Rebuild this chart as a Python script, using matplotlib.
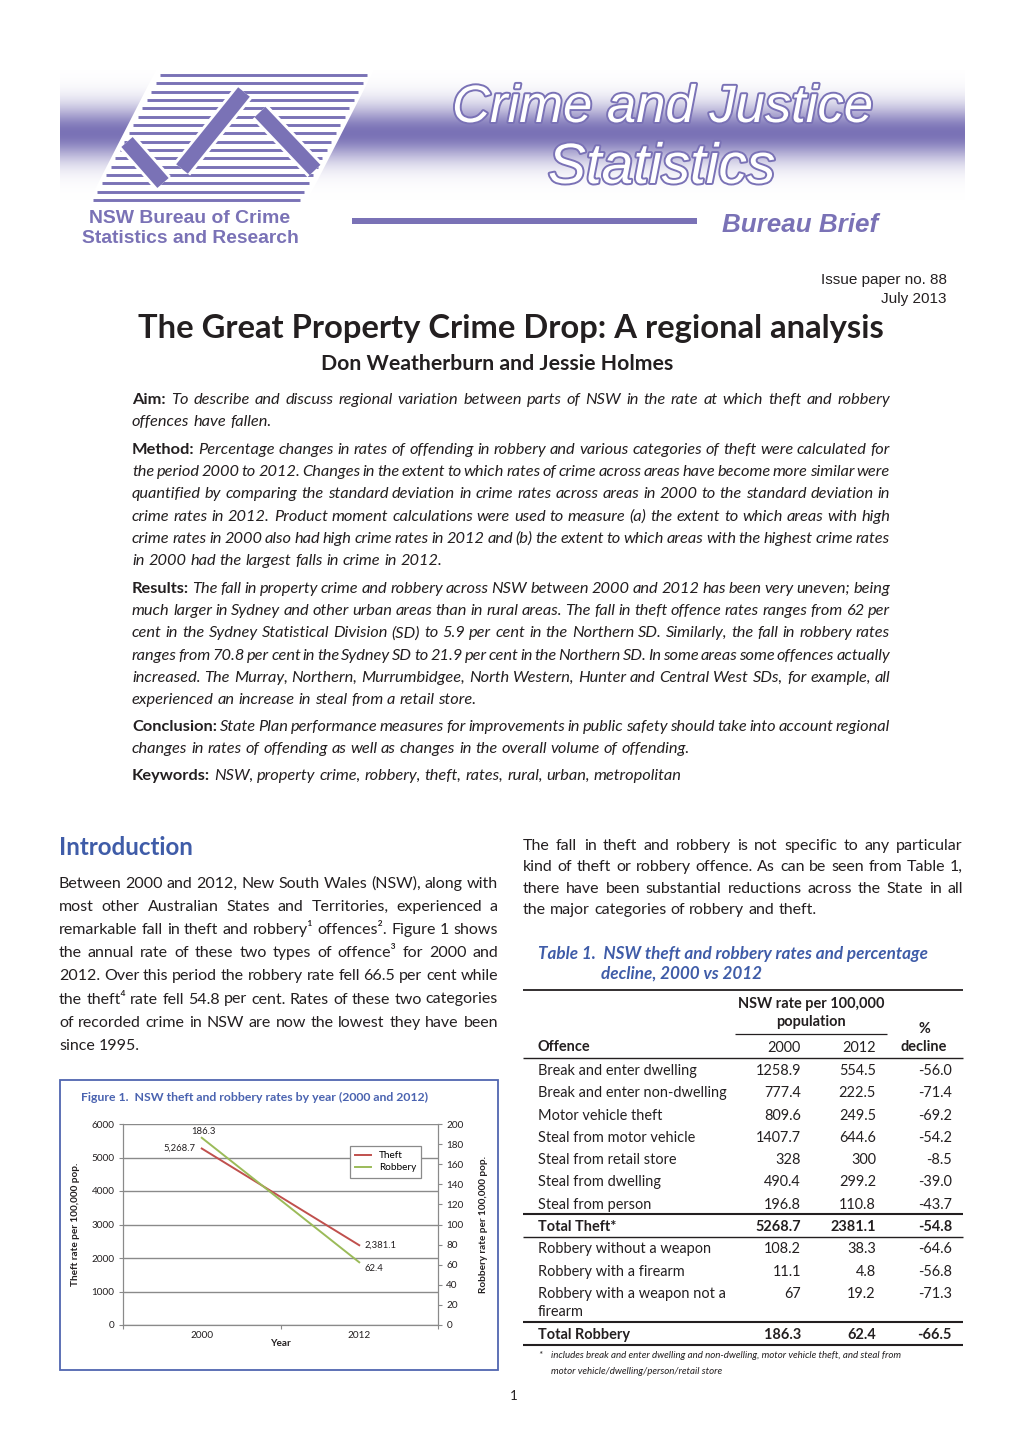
import matplotlib
matplotlib.use('Agg')
import matplotlib.pyplot as plt
import numpy as np
from matplotlib.font_manager import FontProperties
from matplotlib.patches import Rectangle, Polygon
import matplotlib.patheffects as pe

# ---- chart data (Figure 1)
years = ['2000', '2012']
theft = [5268.7, 2381.1]
robbery = [186.3, 62.4]

# ---- table data (Table 1)
theft_offences = ['Break and enter dwelling', 'Break and enter non-dwelling', 'Motor vehicle theft',
                  'Steal from motor vehicle', 'Steal from retail store', 'Steal from dwelling',
                  'Steal from person']
theft_2000 = ['1258.9', '777.4', '809.6', '1407.7', '328', '490.4', '196.8']
theft_2012 = ['554.5', '222.5', '249.5', '644.6', '300', '299.2', '110.8']
theft_decl = ['-56.0', '-71.4', '-69.2', '-54.2', '-8.5', '-39.0', '-43.7']
total_theft = ['Total Theft*', '5268.7', '2381.1', '-54.8']
robbery_offences = ['Robbery without a weapon', 'Robbery with a firearm',
                    'Robbery with a weapon not a\nfirearm']
robbery_2000 = ['108.2', '11.1', '67']
robbery_2012 = ['38.3', '4.8', '19.2']
robbery_decl = ['-64.6', '-56.8', '-71.3']
total_robbery = ['Total Robbery', '186.3', '62.4', '-66.5']

W, H = 1020, 1442
TXT = '#231f20'
PURPLE = '#7a72b6'
BLUE = '#3f5ca8'
RED = '#c0504d'
GREEN = '#9bbb59'
BODY = ['Lato', 'DejaVu Sans']

fig = plt.figure(figsize=(W / 100, H / 100), dpi=100)
page = fig.add_axes([0, 0, 1, 1])
page.set_xlim(0, W)
page.set_ylim(H, 0)
page.axis('off')
renderer = fig.canvas.get_renderer()


def fp(family=BODY, size=10, weight='normal', style='normal'):
    return FontProperties(family=family, size=size, weight=weight, style=style)


def text_w(s, prop):
    w, h, d = renderer.get_text_width_height_descent(s, prop, ismath=False)
    return w


def fit_size(s, target, family=BODY, weight='normal', style='normal'):
    return 20 * target / text_w(s, fp(family, 20, weight, style))


def put(x, y, s, prop, color=TXT, ha='left', **kw):
    return page.text(x, y, s, fontproperties=prop, color=color, ha=ha, va='baseline', **kw)


def line_size(runs, width, base, min_gap=0.45):
    # shrink a justified line only when it cannot fit at the base size
    words = [(w, st) for s, st in runs for w in s.split()]
    props = [fp(BODY, base, st[0], st[1]) for w, st in words]
    sp = text_w('a a', props[-1]) - text_w('aa', props[-1])
    nat = sum(text_w(w, p) for (w, st), p in zip(words, props)) + min_gap * sp * (len(words) - 1)
    return min(base, base * width / nat)


def put_line(runs, x0, x1, y, size, justify, color=TXT):
    words = [(w, st) for s, st in runs for w in s.split()]
    props = [fp(BODY, size, st[0], st[1]) for w, st in words]
    ws = [text_w(w, p) for (w, st), p in zip(words, props)]
    if justify and len(words) > 1:
        gap = (x1 - x0 - sum(ws)) / (len(words) - 1)
    else:
        gap = text_w('a a', props[-1]) - text_w('aa', props[-1])
    x = x0
    for (w, st), p, wd in zip(words, props, ws):
        put(x, y, w, p, color=color)
        x += wd + gap


def paragraph(lines, x0, x1, y0, step, base, first_label=None):
    for k, ln in enumerate(lines):
        runs = [(first_label, ('bold', 'normal')), (ln, ('normal', 'italic'))] if (first_label and k == 0) \
            else [(ln, ('normal', 'italic') if first_label else ('normal', 'normal'))]
        just = k < len(lines) - 1
        size = line_size(runs, x1 - x0, base) if just else base
        put_line(runs, x0, x1, y0 + step * k, size, just)


# ---------------- header band
ys = np.linspace(70, 200, 160)
t = np.exp(-((ys - 133) / 27.0) ** 2)
pc = np.array(matplotlib.colors.to_rgb(PURPLE))
grad = (1 - t)[:, None] * np.ones(3) + t[:, None] * pc
grad = np.repeat(grad[:, None, :], 2, axis=1)
page.imshow(grad, extent=(60, 965, 200, 70), aspect='auto', interpolation='bilinear', zorder=1)
page.set_xlim(0, W)
page.set_ylim(H, 0)

# logo: slanted striped parallelogram with zig-zag strokes
page.add_patch(Polygon([(156, 70), (374, 70), (305, 205), (87, 205)], closed=True,
                       fc='white', ec='none', zorder=2))
for k in range(16):
    yy = 75 + k * 8.33
    xl = 160 - (yy - 75) * 67 / 125
    page.plot([xl, xl + 207], [yy, yy], color=PURPLE, lw=2.1, solid_capstyle='butt', zorder=3)
for (xa, ya), (xb, yb) in [((127, 142), (163, 183)), ((182, 169), (244, 92)), ((260, 112), (315, 170))]:
    page.plot([xa, xb], [ya, yb], color=PURPLE, lw=10.8, solid_capstyle='butt', zorder=4,
              path_effects=[pe.Stroke(linewidth=15, foreground='white'), pe.Normal()])

LIB = ['Liberation Sans', 'DejaVu Sans']
NAR = ['Liberation Sans Narrow', 'Liberation Sans', 'DejaVu Sans']
s1 = fit_size('NSW Bureau of Crime', 201, LIB, 'bold')
put(190, 223, 'NSW Bureau of Crime', fp(LIB, s1, 'bold'), color=PURPLE, ha='center', zorder=5)
s2 = fit_size('Statistics and Research', 217, LIB, 'bold')
put(190, 243, 'Statistics and Research', fp(LIB, s2, 'bold'), color=PURPLE, ha='center', zorder=5)

outline = [pe.withStroke(linewidth=2.8, foreground=PURPLE)]
s3 = fit_size('Crime and Justice', 420, NAR, 'normal', 'italic')
put(452, 122, 'Crime and Justice', fp(NAR, s3, 'normal', 'italic'), color='white',
    path_effects=outline, zorder=5)
s4 = fit_size('Statistics', 227, NAR, 'normal', 'italic')
put(548, 183, 'Statistics', fp(NAR, s4, 'normal', 'italic'), color='white',
    path_effects=outline, zorder=5)

page.add_patch(Rectangle((352, 218), 345, 6, fc=PURPLE, ec='none', zorder=5))
s5 = fit_size('Bureau Brief', 156, LIB, 'bold', 'italic')
put(722, 232, 'Bureau Brief', fp(LIB, s5, 'bold', 'italic'), color=PURPLE, zorder=5)

# ---------------- title block
put(947, 284, 'Issue paper no. 88', fp(NAR, 11), ha='right')
put(947, 303, 'July 2013', fp(NAR, 11), ha='right')
st = fit_size('The Great Property Crime Drop: A regional analysis', 748, BODY, 'bold')
put(511, 338, 'The Great Property Crime Drop: A regional analysis', fp(BODY, st, 'bold'), ha='center')
sa = fit_size('Don Weatherburn and Jessie Holmes', 352, BODY, 'bold')
put(497, 370, 'Don Weatherburn and Jessie Holmes', fp(BODY, sa, 'bold'), ha='center')

# ---------------- abstract
abstract = [
    ('Aim:', 404, ['To describe and discuss regional variation between parts of NSW in the rate at which theft and robbery',
                   'offences have fallen.']),
    ('Method:', 454, ['Percentage changes in rates of offending in robbery and various categories of theft were calculated for',
                      'the period 2000 to 2012. Changes in the extent to which rates of crime across areas have become more similar were',
                      'quantified by comparing the standard deviation in crime rates across areas in 2000 to the standard deviation in',
                      'crime rates in 2012. Product moment calculations were used to measure (a) the extent to which areas with high',
                      'crime rates in 2000 also had high crime rates in 2012 and (b) the extent to which areas with the highest crime rates',
                      'in 2000 had the largest falls in crime in 2012.']),
    ('Results:', 593, ['The fall in property crime and robbery across NSW between 2000 and 2012 has been very uneven; being',
                       'much larger in Sydney and other urban areas than in rural areas. The fall in theft offence rates ranges from 62 per',
                       'cent in the Sydney Statistical Division (SD) to 5.9 per cent in the Northern SD. Similarly, the fall in robbery rates',
                       'ranges from 70.8 per cent in the Sydney SD to 21.9 per cent in the Northern SD. In some areas some offences actually',
                       'increased. The Murray, Northern, Murrumbidgee, North Western, Hunter and Central West SDs, for example, all',
                       'experienced an increase in steal from a retail store.']),
    ('Conclusion:', 731, ['State Plan performance measures for improvements in public safety should take into account regional',
                          'changes in rates of offending as well as changes in the overall volume of offending.']),
    ('Keywords:', 780, ['NSW, property crime, robbery, theft, rates, rural, urban, metropolitan']),
]
for label, y0, lines in abstract:
    paragraph(lines, 132, 890, y0, 22.2, 11.8, first_label=label)

# ---------------- introduction (left column)
si = fit_size('Introduction', 134, BODY, 'bold')
put(59, 855, 'Introduction', fp(BODY, si, 'bold'), color=BLUE)
intro = ['Between 2000 and 2012, New South Wales (NSW), along with',
         'most other Australian States and Territories, experienced a',
         'remarkable fall in theft and robbery\u00b9 offences\u00b2. Figure 1 shows',
         'the annual rate of these two types of offence\u00b3 for 2000 and',
         '2012. Over this period the robbery rate fell 66.5 per cent while',
         'the theft\u2074 rate fell 54.8 per cent. Rates of these two categories',
         'of recorded crime in NSW are now the lowest they have been',
         'since 1995.']
paragraph(intro, 59, 498, 888, 23.1, 11.5)

# ---------------- right column paragraph
para2 = ['The fall in theft and robbery is not specific to any particular',
         'kind of theft or robbery offence. As can be seen from Table 1,',
         'there have been substantial reductions across the State in all',
         'the major categories of robbery and theft.']
paragraph(para2, 523, 963, 850, 21.3, 11.5)

# ---------------- table
stt = fit_size('Table 1.  NSW theft and robbery rates and percentage', 390, BODY, 'bold', 'italic')
put(538, 959, 'Table 1.  NSW theft and robbery rates and percentage', fp(BODY, stt, 'bold', 'italic'), color=BLUE)
put(601, 979, 'decline, 2000 vs 2012', fp(BODY, stt, 'bold', 'italic'), color=BLUE)

tsz = fit_size('Break and enter non-dwelling', 189, BODY)
treg = fp(BODY, tsz)
tbold = fp(BODY, tsz, 'bold')
c0, c1, c2, c3 = 538, 801, 876, 952


def hline(y, x0=523, x1=963, lw=1.0):
    page.plot([x0, x1], [y, y], color=TXT, lw=lw, solid_capstyle='butt')


hline(990, lw=1.3)
put(811, 1008, 'NSW rate per 100,000', tbold, ha='center')
put(811, 1026, 'population', tbold, ha='center')
hline(1034, 735, 887, lw=0.9)
put(924, 1033, '%', tbold, ha='center')
put(924, 1051, 'decline', tbold, ha='center')
put(c0, 1051, 'Offence', tbold)
put(c1, 1052, '2000', treg, ha='right')
put(c2, 1052, '2012', treg, ha='right')
hline(1058, lw=1.0)

y = 1075
for name, a, b, d in zip(theft_offences, theft_2000, theft_2012, theft_decl):
    put(c0, y, name, treg)
    put(c1, y, a, treg, ha='right')
    put(c2, y, b, treg, ha='right')
    put(c3, y, d, treg, ha='right')
    y += 22.3
hline(1214, lw=1.5)
put(c0, 1231, total_theft[0], tbold)
for cx, v in zip([c1, c2, c3], total_theft[1:]):
    put(cx, 1231, v, tbold, ha='right')
hline(1237, lw=1.0)

y = 1253
for name, a, b, d in zip(robbery_offences, robbery_2000, robbery_2012, robbery_decl):
    parts = name.split('\n')
    for j, part in enumerate(parts):
        put(c0, y + 18 * j, part, treg)
    put(c1, y, a, treg, ha='right')
    put(c2, y, b, treg, ha='right')
    put(c3, y, d, treg, ha='right')
    y += 22.6
hline(1322, lw=1.5)
put(c0, 1339, total_robbery[0], tbold)
for cx, v in zip([c1, c2, c3], total_robbery[1:]):
    put(cx, 1339, v, tbold, ha='right')
hline(1345, lw=1.5)

fn = fp(BODY, 7.0, 'normal', 'italic')
put(538, 1358, '*', fn)
put(551, 1358, 'includes break and enter dwelling and non-dwelling, motor vehicle theft, and steal from', fn)
put(551, 1374, 'motor vehicle/dwelling/person/retail store', fn)

put(510, 1400, '1', fp(BODY, 9.5))

# ---------------- figure 1 frame and chart
page.add_patch(Rectangle((60, 1080), 438, 290, fill=False, ec='#5066b0', lw=1.3))
sf = fit_size('Figure 1.  NSW theft and robbery rates by year (2000 and 2012)', 347, BODY, 'bold')
put(81, 1101, 'Figure 1.  NSW theft and robbery rates by year (2000 and 2012)', fp(BODY, sf, 'bold'), color='#4a63b0')

ax = fig.add_axes([123 / W, 1 - 1325 / H, 315 / W, 201 / H])
ax2 = ax.twinx()
ax.patch.set_alpha(0)
x = np.arange(len(years))
l1, = ax.plot(x, theft, color=RED, lw=1.4, label='Theft')
l2, = ax2.plot(x, robbery, color=GREEN, lw=1.4, label='Robbery')
ax.set_xlim(-0.5, len(years) - 0.5)
ax.set_ylim(0, 6000)
ax2.set_ylim(0, 200)
ax.set_yticks(np.arange(0, 6001, 1000))
ax2.set_yticks(np.arange(0, 201, 20))
ax.grid(axis='y', color='#8a8a8a', lw=1.0)
ax.set_axisbelow(True)
ax.set_xticks(np.arange(-0.5, len(years), 1.0))
ax.set_xticklabels([])
ax.set_xticks(x, minor=True)
ax.set_xticklabels(years, minor=True)
ax.tick_params(axis='x', which='minor', length=0, pad=4)
ax.tick_params(axis='x', which='major', length=3, color='#8a8a8a')
tk = fp(BODY, 7.2)
for lab in ax.get_yticklabels() + ax2.get_yticklabels() + ax.get_xticklabels(minor=True):
    lab.set_fontproperties(tk)
    lab.set_color(TXT)
ax.tick_params(axis='y', length=3, color='#8a8a8a', pad=3)
ax2.tick_params(axis='y', length=3, color='#8a8a8a', pad=3)
for a in (ax, ax2):
    a.spines['top'].set_visible(False)
    for sp in ('left', 'right', 'bottom'):
        a.spines[sp].set_color('#8a8a8a')

lab_fp = fp(BODY, 7.2, 'bold')
ax.set_ylabel('Theft rate per 100,000 pop.', fontproperties=lab_fp, color=TXT)
ax.yaxis.set_label_coords(-43 / 315, 0.5)
ax2.set_ylabel('Robbery rate per 100,000 pop.', fontproperties=lab_fp, color=TXT, rotation=90)
ax2.yaxis.set_label_coords(356 / 315, 0.5)
ax.set_xlabel('Year', fontproperties=lab_fp, color=TXT)
ax.xaxis.set_label_coords(0.5, -14 / 201)

dl = fp(BODY, 6.8)
ax.annotate(f'{theft[0]:,.1f}', (x[0], theft[0]), xytext=(-4.5, 0), textcoords='offset points',
            ha='right', va='center', fontproperties=dl, color=TXT)
ax.annotate(f'{theft[1]:,.1f}', (x[1], theft[1]), xytext=(3.5, 0), textcoords='offset points',
            ha='left', va='center', fontproperties=dl, color=TXT)
ax2.annotate(f'{robbery[0]:.1f}', (x[0], robbery[0]), xytext=(1.5, 4.5), textcoords='offset points',
             ha='center', va='center', fontproperties=dl, color=TXT)
ax2.annotate(f'{robbery[1]:.1f}', (x[1], robbery[1]), xytext=(3.5, -4.5), textcoords='offset points',
             ha='left', va='center', fontproperties=dl, color=TXT)

leg = ax2.legend([l1, l2], ['Theft', 'Robbery'], loc='upper left',
                 bbox_to_anchor=((345 - 123) / 315, (1325 - 1141) / 201), prop=fp(BODY, 7.2),
                 fancybox=False, framealpha=1, edgecolor='#8a8a8a', handlelength=1.6,
                 borderpad=0.5, labelspacing=0.35, handletextpad=0.8)
leg.get_frame().set_linewidth(0.9)

fig.savefig('out.png', dpi=100)
